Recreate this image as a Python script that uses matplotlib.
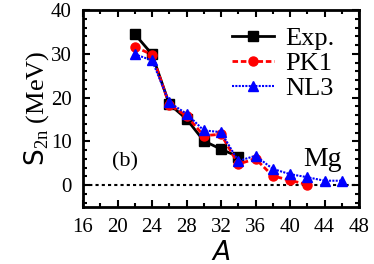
import matplotlib
matplotlib.use("Agg")
import matplotlib.pyplot as plt
from matplotlib.ticker import MultipleLocator

A_exp = [22, 24, 26, 28, 30, 32, 34]
S_exp = [34.5, 29.9, 18.5, 15.1, 10.1, 8.2, 6.5]
A_pk1 = [22, 24, 26, 28, 30, 32, 34, 36, 38, 40, 42]
S_pk1 = [31.6, 29.8, 18.4, 15.8, 11.3, 11.6, 4.8, 6.0, 2.1, 1.1, 0.1]
A_nl3 = [22, 24, 26, 28, 30, 32, 34, 36, 38, 40, 42, 44, 46]
S_nl3 = [29.9, 28.5, 18.9, 16.3, 12.5, 12.1, 5.5, 6.7, 3.7, 2.5, 1.8, 1.0, 1.0]
x_ticks = [16, 20, 24, 28, 32, 36, 40, 44, 48]
y_ticks = [0, 10, 20, 30, 40]

plt.rcParams['mathtext.fontset'] = 'custom'
plt.rcParams['mathtext.rm'] = 'Liberation Serif'
plt.rcParams['mathtext.sf'] = 'DejaVu Sans'
plt.rcParams['mathtext.it'] = 'DejaVu Sans:italic'
plt.rcParams['font.family'] = 'Liberation Serif'

fig = plt.figure(figsize=(3.74, 2.64), dpi=100)
ax = fig.add_axes([0.222, 0.216, 0.738, 0.746])

ax.axhline(0, color='black', lw=1.5, ls=(0, (1.5, 1.5)))
ax.plot(A_exp, S_exp, color='black', lw=2, marker='s', ms=6.5, label='Exp.')
ax.plot(A_pk1, S_pk1, color='red', lw=2, ls=(0, (2, 1)), marker='o', ms=6.5, label='PK1')
ax.plot(A_nl3, S_nl3, color='blue', lw=1.5, ls=(0, (1, 0.6)), marker='^', ms=6.5, label='NL3')

ax.set_xlim(16, 48)
ax.set_ylim(-5, 40)
ax.set_xticks(x_ticks)
ax.set_yticks(y_ticks)
ax.xaxis.set_minor_locator(MultipleLocator(2))
ax.yaxis.set_minor_locator(MultipleLocator(2))
ax.tick_params(which='both', direction='in', top=True, right=True, width=1.5)
ax.tick_params(which='major', length=5, labelsize=15, pad=8)
ax.tick_params(which='minor', length=3)
for s in ax.spines.values():
    s.set_linewidth(2)

ax.set_xlabel(r'$\mathit{A}$', fontsize=19, labelpad=3)
ax.set_ylabel(r'$\mathsf{S}_{\mathrm{2n}}$ (MeV)', fontsize=19, labelpad=0)

ax.text(19.4, 4.3, '(b)', fontsize=16)
ax.text(41.5, 4.3, 'Mg', fontsize=20)

ax.legend(loc='upper right', frameon=False, fontsize=19, handlelength=1.6,
          handletextpad=0.4, labelspacing=0.05, borderpad=0.0, borderaxespad=0.0,
          bbox_to_anchor=(0.91, 0.915))

fig.savefig('out.png', dpi=100)
